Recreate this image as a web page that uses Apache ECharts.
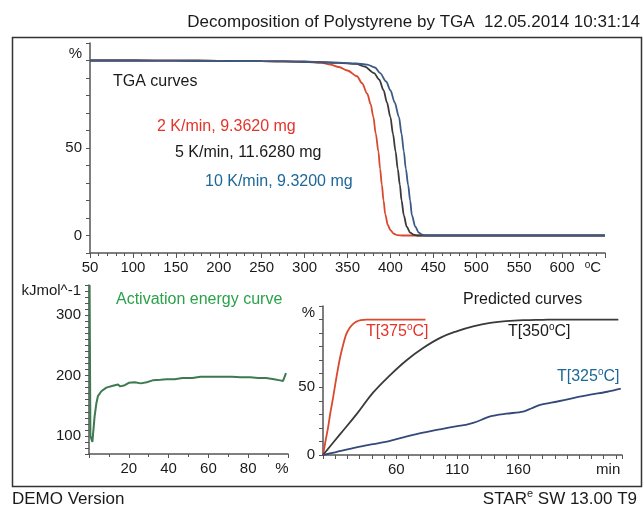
<!DOCTYPE html>
<html><head><meta charset="utf-8">
<script src="https://cdn.jsdelivr.net/npm/echarts/dist/echarts.min.js"></script>
<style>html,body{margin:0;padding:0;background:#fff}#c{width:643px;height:509px}</style>
</head><body><div id="c"></div>
<script>
// ---------- DATA ----------
// TGA curves (temperature °C, mass %)
const tgaTemp2 = [50, 100, 150, 200, 250, 300, 320, 330, 340, 350, 361, 367, 373, 377, 380, 383, 386, 388, 390, 392, 394, 397, 400, 404, 408, 415, 450, 500, 550, 600, 650];
const tgaMass2 = [100, 100, 99.9, 99.8, 99.6, 99.3, 98.7, 97.6, 96.3, 94.3, 91, 87, 81, 75, 68, 58, 48, 38, 29, 20, 12, 6, 3, 1, 0.2, 0, 0, 0, 0, 0, 0];
const tgaTemp5 = [50, 100, 150, 200, 250, 300, 340, 360, 370, 381, 387, 392, 396, 400, 403, 406, 408.5, 411, 413, 415.6, 419, 423, 427, 431, 450, 500, 550, 600, 650];
const tgaMass5 = [100, 100, 99.9, 99.8, 99.6, 99.3, 98.7, 98.1, 96.5, 92.8, 89, 83, 76, 67.6, 58, 48, 38, 29, 20, 11.6, 5, 1.7, 0.5, 0, 0, 0, 0, 0, 0];
const tgaTemp10 = [50, 100, 150, 200, 250, 300, 340, 360, 373, 382, 388, 395, 400, 405, 410, 413, 415.6, 418, 420.6, 423, 425, 429, 433, 437, 441, 450, 500, 550, 600, 650];
const tgaMass10 = [100, 100, 99.9, 99.8, 99.6, 99.3, 98.8, 98.3, 97.7, 96, 92.8, 88, 83, 76, 67.6, 58, 48, 38, 29, 20, 11.6, 5, 1.7, 0.5, 0, 0, 0, 0, 0, 0];
const tgaLabels = ['2 K/min, 9.3620 mg', '5 K/min, 11.6280 mg', '10 K/min, 9.3200 mg'];

// Activation energy (conversion %, kJ/mol)
const aeConv = [0.3, 0.7, 1.7, 2.8, 3.7, 4.5, 6.2, 8.7, 12, 14.6, 15.7, 18, 20, 23, 26, 29, 32, 36, 39, 43, 47, 52, 56, 60, 64, 68, 72, 76, 81, 85, 89, 93, 96, 97.5, 98.5, 99];
const aeVal  = [350, 100, 90, 132, 154, 166, 174, 180, 183, 185, 182, 184, 188, 189, 187, 189, 192, 193, 194, 194, 196, 196, 198, 198, 198, 198, 198, 197, 197, 196, 196, 194, 192, 191, 193, 204];

// Predicted curves (time min, conversion %)
const t375 = [0, 2, 4.1, 6, 8.2, 10, 12.3, 14, 16.4, 19, 21.9, 25, 27.4, 31, 35.6, 45, 55, 70, 84];
const c375 = [0, 10, 20, 31, 42, 52, 64, 72, 81, 89, 94, 97, 98.5, 99.5, 100, 100, 100, 100, 100];
const t350 = [0, 13.7, 27.4, 41, 55, 68.5, 82, 96, 110, 123, 137, 150, 164, 180, 192, 210, 230, 242];
const c350 = [0, 15, 30, 46, 59, 70, 79, 86.5, 91.5, 95, 97.6, 98.8, 99.5, 99.8, 100, 100, 100, 100];
const t325 = [0, 10, 27.4, 41, 55, 68, 82, 96, 110, 117, 123, 130, 137, 150, 164, 171, 178, 192, 205, 219, 233, 244];
const c325 = [0, 2, 5.6, 8, 10.4, 13.5, 16.5, 19, 21.3, 22.3, 23.7, 26, 28.6, 30.5, 32, 34.5, 37, 39.5, 42, 44.5, 46.7, 49];

const titleText = 'Decomposition of Polystyrene by TGA  12.05.2014 10:31:14';

// ---------- CHART ----------
const FONT = '"Liberation Sans", Arial, Helvetica, sans-serif';
const zip = (a, b) => a.map((v, i) => [v, b[i]]);
const AX = '#555';
const RED = '#e4342a', BLUE = '#1d6898', GREEN_T = '#2aa24a';

function valAxis(gi, min, max, interval, fmt, extra) {
  return Object.assign({
    type: 'value', gridIndex: gi, min, max, interval,
    axisLine: { show: true, onZero: false, lineStyle: { color: AX, width: 1.5 } },
    axisTick: { show: true, inside: false, length: 4, lineStyle: { color: AX, width: 1 } },
    splitLine: { show: false },
    axisLabel: {
      formatter: fmt, color: '#1a1a1a', fontSize: 15, fontFamily: FONT, margin: 7,
      rich: {
        s: { fontSize: 10, fontFamily: FONT, color: '#1a1a1a', padding: [0, 0, 9, 0] },
        cl: { fontSize: 15, fontFamily: FONT, color: '#1a1a1a', padding: [0, 24, 4, 0] },
        pr: { fontSize: 15, fontFamily: FONT, color: '#1a1a1a', padding: [0, 12, 0, 0] },
        pu: { fontSize: 15, fontFamily: FONT, color: '#1a1a1a', padding: [0, 0, 14, 0] },
        mn: { fontSize: 15, fontFamily: FONT, color: '#1a1a1a', padding: [0, 0, 0, 9] }
      }
    }
  }, extra || {});
}

const xAxes = [
  valAxis(0, 50, 650, 50, v => v === 650 ? '{s|o}{cl|C}' : String(v),
    { axisTick: { show: true, length: 5, lineStyle: { color: AX } }, minorTick: { show: true, splitNumber: 5, length: 3, lineStyle: { color: AX } } }),
  valAxis(1, 0, 100, 20, v => v === 100 ? '{pr|%}' : (v === 0 ? '' : String(v)),
    { minorTick: { show: true, splitNumber: 2, length: 3, lineStyle: { color: AX } } }),
  valAxis(2, 0, 245, 10, v => (v === 60 || v === 110 || v === 160) ? String(v) : (v === 230 ? '{mn|min}' : ''))
];
const yAxes = [
  valAxis(0, -10, 110, 10, v => v === 0 ? '0' : v === 50 ? '50' : v === 100 ? '{pu|%}' : ''),
  valAxis(1, 70, 350, 10, v => (v === 100 || v === 200 || v === 300) ? String(v) : (v === 340 ? 'kJmol^-1' : '')),
  valAxis(2, 0, 110, 10, v => v === 0 ? '0' : v === 50 ? '50' : v === 100 ? '{pu|%}' : '')
];
yAxes.forEach(a => a.axisLabel.margin = 8);

function line(xi, data, color, width, smooth, mono) {
  return {
    type: 'line', xAxisIndex: xi, yAxisIndex: xi, data, showSymbol: false,
    smooth: smooth, smoothMonotone: mono || null, animation: false,
    lineStyle: { color, width }, emphasis: { disabled: true }
  };
}

function txt(x, y, text, color, size, align, rich) {
  const st = { text, x: 0, y: 0, fill: color, font: size + 'px ' + FONT,
    textAlign: align || 'left', align: align || 'left', textVerticalAlign: 'middle', verticalAlign: 'middle' };
  if (rich) st.rich = rich;
  return { type: 'text', x, y, silent: true, style: st };
}
function degRich(color) {
  return {
    a: { fontSize: 16, fontFamily: FONT, color },
    s: { fontSize: 10, fontFamily: FONT, color, padding: [0, 0, 9, 0] }
  };
}

const option = {
  backgroundColor: '#fff',
  animation: false,
  grid: [
    { left: 90, top: 43, width: 515, height: 210 },
    { left: 89, top: 285, width: 199, height: 169 },
    { left: 323, top: 306, width: 299, height: 149 }
  ],
  xAxis: xAxes,
  yAxis: yAxes,
  series: [
    line(0, zip(tgaTemp2, tgaMass2), '#d9492d', 1.8, 0.3, 'x'),
    line(0, zip(tgaTemp5, tgaMass5), '#3a3a3a', 1.8, 0.3, 'x'),
    line(0, zip(tgaTemp10, tgaMass10), '#3b5a84', 1.8, 0.3, 'x'),
    line(1, zip(aeConv, aeVal), '#3d7a52', 2, false),
    line(2, zip(t375, c375), '#d9492d', 1.8, 0.3),
    line(2, zip(t350, c350), '#3a3a3a', 1.8, 0.4),
    line(2, zip(t325, c325), '#34497a', 1.8, 0.3)
  ],
  graphic: [
    { type: 'rect', silent: true, shape: { x: 12.5, y: 37.5, width: 629, height: 449 },
      style: { fill: 'none', stroke: '#333', lineWidth: 1.5 } },
    txt(640, 22, titleText, '#1a1a1a', 17, 'right'),
    txt(113, 82, 'TGA curves', '#1a1a1a', 16),
    txt(157, 127, tgaLabels[0], RED, 16),
    txt(175, 153, tgaLabels[1], '#1a1a1a', 16),
    txt(205, 182, tgaLabels[2], BLUE, 16),
    txt(116, 300, 'Activation energy curve', GREEN_T, 16),
    txt(463, 300, 'Predicted curves', '#1a1a1a', 16),
    txt(366, 332, '{a|T[375}{s|o}{a|C]}', RED, 16, 'left', degRich(RED)),
    txt(508, 332, '{a|T[350}{s|o}{a|C]}', '#1a1a1a', 16, 'left', degRich('#1a1a1a')),
    txt(557, 377, '{a|T[325}{s|o}{a|C]}', BLUE, 16, 'left', degRich(BLUE)),
    txt(12, 499, 'DEMO Version', '#1a1a1a', 17),
    txt(637, 499, '{k|S}{r|TA}{k|R}{e|e}{k| SW 13.00 T9}', '#1a1a1a', 17, 'right', {
      k: { fontSize: 17, fontFamily: FONT, color: '#1a1a1a' },
      r: { fontSize: 17, fontFamily: FONT, color: RED },
      e: { fontSize: 11, fontFamily: FONT, color: RED, padding: [0, 0, 10, 0] }
    })
  ]
};

const chart = echarts.init(document.getElementById('c'), null, { renderer: 'canvas' });
chart.setOption(option);
</script>
</body></html>
